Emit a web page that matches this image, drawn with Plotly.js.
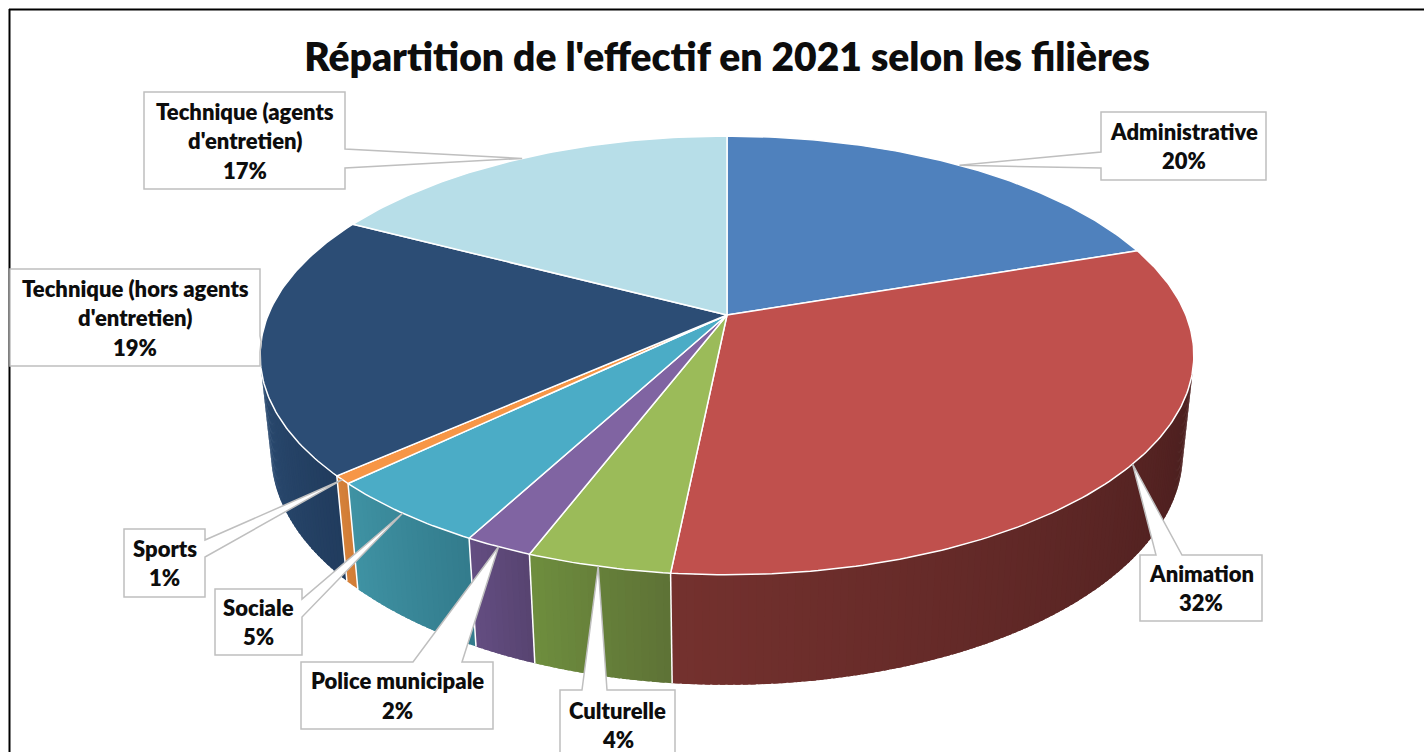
<!DOCTYPE html>
<html>
<head>
<meta charset="utf-8">
<script src="https://cdn.plot.ly/plotly-3.0.1.min.js"></script>
<style>
  html, body { margin: 0; padding: 0; background: #ffffff; }
  #chart { width: 1424px; height: 752px; }
</style>
</head>
<body>
<div id="chart"></div>
<script>
// ---------------- DATA ----------------
const categories = ['Administrative', 'Animation', 'Culturelle', 'Police municipale', 'Sociale', 'Sports',
                    "Technique (hors agents d'entretien)", "Technique (agents d'entretien)"];
const values = [19.8, 31.8, 4.2, 2.0, 5.0, 0.6, 19.3, 17.3];
const labelLines = [['Administrative'], ['Animation'], ['Culturelle'], ['Police municipale'], ['Sociale'], ['Sports'],
                    ['Technique (hors agents', "d'entretien)"], ['Technique (agents', "d'entretien)"]];
const chartTitle = "Répartition de l'effectif en 2021 selon les filières";

// ---------------- STYLE ----------------
const topColors   = ['#4F81BD', '#C0504D', '#9BBB59', '#8064A2', '#4BACC6', '#F79646', '#2C4D75', '#B7DEE8'];
const wallLeft    = ['#3A6090', '#74312E', '#6E8E3E', '#644D82', '#3F92A4', '#D6823A', '#2B4B71', '#8FB3BD'];
const wallRight   = ['#2F5077', '#4A1E1E', '#5E7236', '#574470', '#337C8C', '#D07C36', '#213C5E', '#7FA2AC'];
// label boxes: [x0, y0, x1, y1, tail side, tail base start, tail base end] (pixels)
const labelBoxes = [
  [1101, 112, 1266, 180, 'left', 152, 168],
  [1140, 555, 1262, 621, 'top', 1156, 1182],
  [560, 690, 675, 762, 'top', 582, 607],
  [301, 662, 493, 729, 'top', 413, 462],
  [215, 589, 302, 655, 'right', 599, 617],
  [124, 529, 205, 597, 'right', 540, 557],
  [10, 269, 260, 366, 'right', 336, 352],
  [144, 92, 345, 189, 'right', 149, 168]
];
const FONT = "Lato, 'Open Sans', 'Liberation Sans', sans-serif";

// ---------------- 3D PROJECTION ----------------
const W = 1424, Hgt = 752;
const CX = 727, CY = 315, F = 2207, D = 4.81;
const PHI = 27.5 * Math.PI / 180, cosP = Math.cos(PHI), sinP = Math.sin(PHI);
const DEPTH = 0.2417;
function proj(theta, r, z) {
  const X = r * Math.sin(theta), Y = r * Math.cos(theta);
  const dep = D + Y * cosP - z * sinP;
  const up = Y * sinP + z * cosP;
  return [CX + F * X / dep, CY - F * up / dep];
}
function hex2rgb(h) { return [1, 3, 5].map(i => parseInt(h.substr(i, 2), 16)); }
function mix(a, b, t) {
  const A = hex2rgb(a), B = hex2rgb(b);
  return 'rgb(' + A.map((v, i) => Math.round(v + (B[i] - v) * t)).join(',') + ')';
}

const total = values.reduce((s, v) => s + v, 0);
const starts = [], ends = [];
let acc = 0;
values.forEach(v => { starts.push(acc / total * 2 * Math.PI); acc += v; ends.push(acc / total * 2 * Math.PI); });

const traces = [];
// visible front wall range
const lim = Math.acos(-1 / (D * cosP));
const vis0 = lim, vis1 = 2 * Math.PI - lim;

// walls (strips overlap slightly to avoid seams)
values.forEach((v, i) => {
  const a0 = Math.max(starts[i], vis0), a1 = Math.min(ends[i], vis1);
  if (a1 <= a0) return;
  const n = Math.max(2, Math.ceil((a1 - a0) / (0.8 * Math.PI / 180)));
  const step = (a1 - a0) / n;
  for (let k = 0; k < n; k++) {
    const ta = a0 + step * k, tb = Math.min(a1, a0 + step * (k + 1.7));
    const p1 = proj(ta, 1, 0), p2 = proj(tb, 1, 0), p3 = proj(tb, 1, -DEPTH), p4 = proj(ta, 1, -DEPTH);
    const t = 1 - (ta + step / 2 - a0) / (a1 - a0);
    const col = mix(wallLeft[i], wallRight[i], t);
    traces.push({
      type: 'scatter', mode: 'lines', fill: 'toself', fillcolor: col,
      x: [p1[0], p2[0], p3[0], p4[0], p1[0]], y: [p1[1], p2[1], p3[1], p4[1], p1[1]],
      line: { color: col, width: 0 }, hoverinfo: 'skip', showlegend: false
    });
  }
});
// wall separators
starts.forEach(a => {
  if (a > vis0 && a < vis1) {
    const p1 = proj(a, 1, 0), p2 = proj(a, 1, -DEPTH);
    traces.push({ type: 'scatter', mode: 'lines', x: [p1[0], p2[0]], y: [p1[1], p2[1]],
      line: { color: '#ffffff', width: 1.5 }, hoverinfo: 'skip', showlegend: false });
  }
});
// top faces
values.forEach((v, i) => {
  const a0 = starts[i], a1 = ends[i];
  const n = Math.max(2, Math.ceil((a1 - a0) / (0.8 * Math.PI / 180)));
  const xs = [CX], ys = [CY];
  for (let k = 0; k <= n; k++) {
    const p = proj(a0 + (a1 - a0) * k / n, 1, 0);
    xs.push(p[0]); ys.push(p[1]);
  }
  xs.push(CX); ys.push(CY);
  traces.push({
    type: 'scatter', mode: 'lines', fill: 'toself', fillcolor: topColors[i],
    x: xs, y: ys, line: { color: '#ffffff', width: 1.5 }, name: categories[i],
    hoverinfo: 'skip', showlegend: false
  });
});

// ---------------- LABEL CALLOUTS ----------------
const shapes = [];
const annotations = [];
// frame
shapes.push({ type: 'line', xref: 'x', yref: 'y', x0: 9, x1: 1424, y0: 9.5, y1: 9.5, line: { color: '#000', width: 2 }, layer: 'above' });
shapes.push({ type: 'line', xref: 'x', yref: 'y', x0: 9.5, x1: 9.5, y0: 9, y1: 752, line: { color: '#000', width: 2 }, layer: 'above' });

values.forEach((v, i) => {
  const [x0, y0, x1, y1, side, b1, b2] = labelBoxes[i];
  const mid = (starts[i] + ends[i]) / 2;
  const tip = proj(mid, 1, 0);
  let pts;
  if (side === 'left') pts = [[x0, y0], [x1, y0], [x1, y1], [x0, y1], [x0, b2], tip, [x0, b1]];
  else if (side === 'right') pts = [[x0, y0], [x1, y0], [x1, b1], tip, [x1, b2], [x1, y1], [x0, y1]];
  else if (side === 'top') pts = [[x0, y0], [b1, y0], tip, [b2, y0], [x1, y0], [x1, y1], [x0, y1]];
  else pts = [[x0, y0], [x1, y0], [x1, y1], [b2, y1], tip, [b1, y1], [x0, y1]];
  const path = 'M ' + pts.map(p => p[0].toFixed(1) + ',' + p[1].toFixed(1)).join(' L ') + ' Z';
  shapes.push({ type: 'path', xref: 'x', yref: 'y', path: path, fillcolor: '#ffffff',
    line: { color: '#BFBFBF', width: 1.5 }, layer: 'above' });
  const lines = labelLines[i].concat([Math.round(v / total * 100) + '%']);
  const cxm = (x0 + x1) / 2, cym = (y0 + Math.min(y1, 760)) / 2;
  const sp = 29.5;
  lines.forEach((t, j) => {
    annotations.push({
      x: cxm, y: cym + (j - (lines.length - 1) / 2) * sp, xref: 'x', yref: 'y',
      text: t, showarrow: false, xanchor: 'center', yanchor: 'middle',
      font: { family: FONT, size: 22, color: '#0D0D0D', weight: 800 }
    });
  });
});

const layout = {
  width: W, height: Hgt,
  margin: { l: 0, r: 0, t: 0, b: 0, pad: 0 },
  paper_bgcolor: '#ffffff', plot_bgcolor: '#ffffff',
  title: { text: chartTitle, x: 727 / W, xanchor: 'center', xref: 'paper',
           y: 1 - 57 / Hgt, yref: 'container', yanchor: 'middle',
           font: { family: FONT, size: 39, color: '#0D0D0D', weight: 800 } },
  xaxis: { range: [0, W], visible: false, fixedrange: true, domain: [0, 1] },
  yaxis: { range: [Hgt, 0], visible: false, fixedrange: true, domain: [0, 1] },
  showlegend: false, hovermode: false,
  shapes: shapes, annotations: annotations
};
Plotly.newPlot('chart', traces, layout, { displayModeBar: false, staticPlot: true });
</script>
</body>
</html>
